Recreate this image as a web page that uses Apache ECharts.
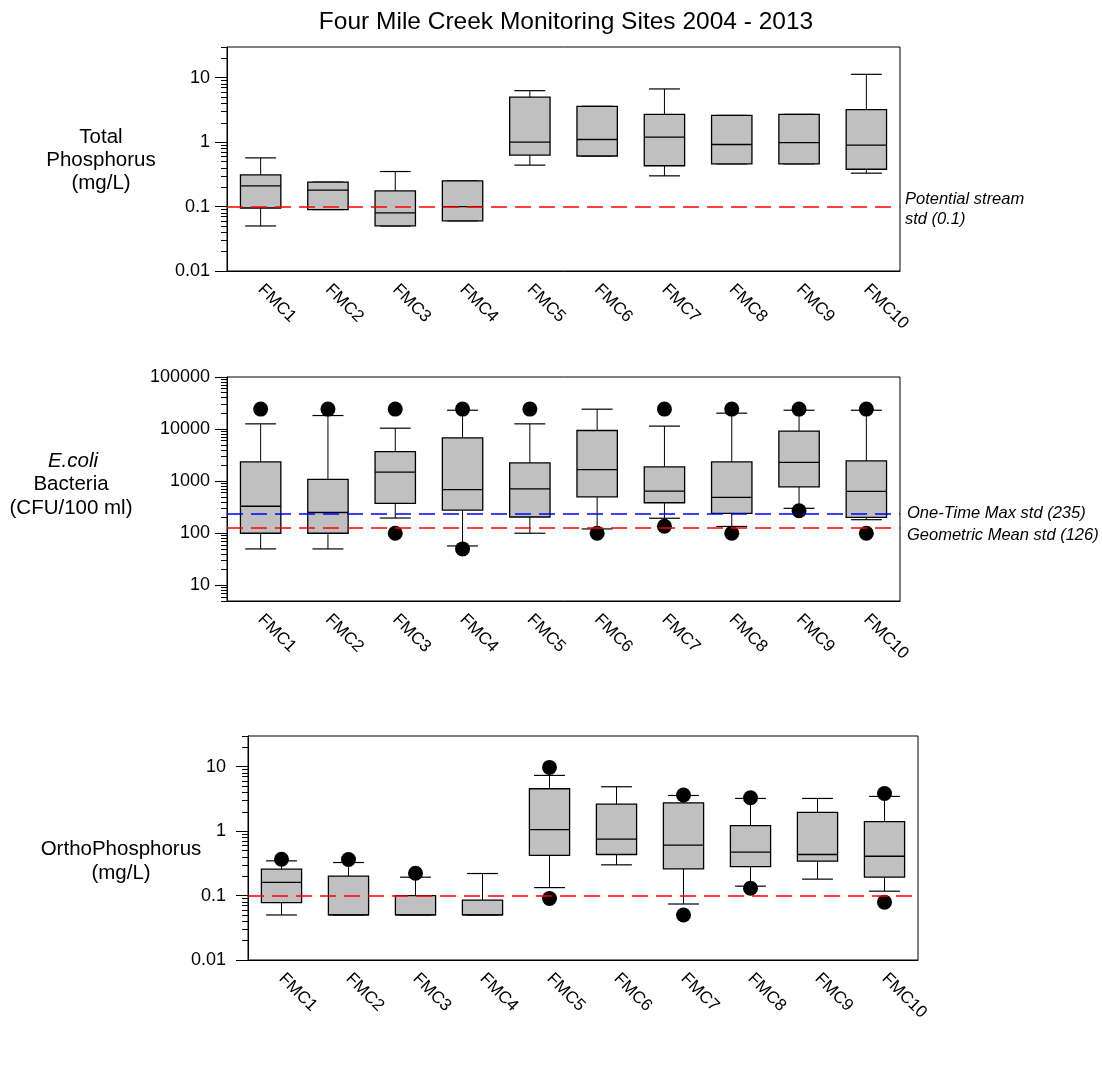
<!DOCTYPE html>
<html>
<head>
<meta charset="utf-8">
<script src="https://cdn.jsdelivr.net/npm/echarts@6/dist/echarts.min.js"></script>
<style>
  html, body { margin: 0; padding: 0; background: #ffffff; }
  #chart { width: 1102px; height: 1072px; }
</style>
</head>
<body>
<div id="chart"></div>
<script>
// Monitoring sites along Four Mile Creek
const sites = ['FMC1', 'FMC2', 'FMC3', 'FMC4', 'FMC5', 'FMC6', 'FMC7', 'FMC8', 'FMC9', 'FMC10'];

// Box summaries per site: [lower whisker, Q1, median, Q3, upper whisker]
const totalPhosphorus = [
  [0.05, 0.095, 0.21, 0.31, 0.57],
  [0.09, 0.09, 0.18, 0.24, 0.24],
  [0.05, 0.05, 0.08, 0.175, 0.35],
  [0.06, 0.06, 0.1, 0.25, 0.25],
  [0.44, 0.63, 1.0, 5.0, 6.3],
  [0.61, 0.61, 1.1, 3.6, 3.6],
  [0.30, 0.43, 1.2, 2.7, 6.7],
  [0.46, 0.46, 0.92, 2.6, 2.6],
  [0.46, 0.46, 0.98, 2.7, 2.7],
  [0.33, 0.38, 0.9, 3.2, 11.3]
];

const ecoli = [
  [50, 100, 330, 2340, 12600],
  [50, 100, 250, 1080, 18200],
  [196, 374, 1490, 3690, 10400],
  [57, 279, 690, 6800, 23000],
  [100, 205, 710, 2240, 12600],
  [121, 500, 1670, 9400, 24100],
  [194, 385, 645, 1880, 11400],
  [135, 240, 490, 2340, 20200],
  [301, 780, 2300, 9150, 23000],
  [182, 202, 636, 2450, 23000]
];

const ecoliOutliers = [
  ['FMC1', 24196], ['FMC2', 24196], ['FMC3', 24196], ['FMC3', 100],
  ['FMC4', 24196], ['FMC4', 50], ['FMC5', 24196], ['FMC6', 100],
  ['FMC7', 24196], ['FMC7', 136], ['FMC8', 24196], ['FMC8', 100],
  ['FMC9', 24196], ['FMC9', 271], ['FMC10', 24196], ['FMC10', 100]
];

const orthoPhosphorus = [
  [0.05, 0.078, 0.16, 0.257, 0.346],
  [0.05, 0.05, 0.05, 0.2, 0.326],
  [0.05, 0.05, 0.05, 0.1, 0.193],
  [0.05, 0.05, 0.05, 0.085, 0.22],
  [0.133, 0.42, 1.06, 4.55, 7.33],
  [0.30, 0.434, 0.75, 2.63, 4.89],
  [0.074, 0.26, 0.605, 2.75, 3.58],
  [0.14, 0.282, 0.472, 1.22, 3.22],
  [0.18, 0.342, 0.434, 1.95, 3.22],
  [0.117, 0.193, 0.408, 1.41, 3.46]
];

const orthoOutliers = [
  ['FMC1', 0.367], ['FMC2', 0.363], ['FMC3', 0.222],
  ['FMC5', 9.77], ['FMC5', 0.09], ['FMC7', 3.65], ['FMC7', 0.05],
  ['FMC8', 3.3], ['FMC8', 0.13], ['FMC10', 3.85], ['FMC10', 0.079]
];

// Water-quality standards
const tpStreamStd = 0.1;
const ecoliOneTimeMax = 235;
const ecoliGeoMean = 126;
const orthoStd = 0.1;

// Axis ranges and labelled decades
const tpRange = [0.01, 30];
const ecoliRange = [5, 100000];
const orthoRange = [0.01, 30];
const tpTicks = [0.01, 0.1, 1, 10];
const ecoliTicks = [10, 100, 1000, 10000, 100000];
const orthoTicks = [0.01, 0.1, 1, 10];

const FONT = '"Liberation Sans", Arial, Helvetica, sans-serif';

// 2..9 sub-decade tick positions inside a log range
function minorTicks(range) {
  const out = [];
  const d0 = Math.floor(Math.log10(range[0]));
  const d1 = Math.ceil(Math.log10(range[1]));
  for (let d = d0; d <= d1; d++) {
    for (let k = 2; k <= 9; k++) {
      const v = Number((k * Math.pow(10, d)).toPrecision(3));
      if (v >= range[0] * 0.999 && v <= range[1] * 1.001) out.push(v);
    }
  }
  return out;
}

const fmtNum = v => String(Number(Number(v).toPrecision(6)));

// Box-and-whisker glyph drawn through the cartesian scales
function boxRenderer(params, api) {
  const cat = api.value(0);
  const ys = [1, 2, 3, 4, 5].map(i => api.coord([cat, api.value(i)])[1]);
  const cx = api.coord([cat, api.value(3)])[0];
  const band = params.coordSys.width / sites.length;
  const hb = band * 0.30, hc = band * 0.23;
  const seg = (x1, y1, x2, y2, w) => ({
    type: 'line', shape: { x1, y1, x2, y2 },
    style: { stroke: '#000', lineWidth: w }
  });
  return {
    type: 'group',
    children: [
      seg(cx, ys[4], cx, ys[3], 1),
      seg(cx - hc, ys[4], cx + hc, ys[4], 1.2),
      seg(cx, ys[0], cx, ys[1], 1),
      seg(cx - hc, ys[0], cx + hc, ys[0], 1.2),
      {
        type: 'rect',
        shape: { x: cx - hb, y: ys[3], width: hb * 2, height: ys[1] - ys[3] },
        style: { fill: '#c0c0c0', stroke: '#000', lineWidth: 1.3 }
      },
      seg(cx - hb, ys[2], cx + hb, ys[2], 1.3)
    ]
  };
}

const grids = [
  { left: 227, top: 47, width: 673, height: 224 },
  { left: 227, top: 377, width: 673, height: 224 },
  { left: 248, top: 736, width: 670, height: 224 }
];
const ranges = [tpRange, ecoliRange, orthoRange];
const ticks = [tpTicks, ecoliTicks, orthoTicks];
const labelMargins = [17, 17, 22];

const chart = echarts.init(document.getElementById('chart'), null, { renderer: 'canvas' });

const option = {
  backgroundColor: '#ffffff',
  animation: false,
  grid: grids.map(g => Object.assign({ show: true, borderColor: '#000', borderWidth: 1, backgroundColor: 'transparent' }, g)),
  xAxis: grids.map((g, i) => ({
    type: 'category', gridIndex: i, data: sites,
    axisLine: { lineStyle: { color: '#000', width: 1 } },
    axisTick: { alignWithLabel: true, length: 6, lineStyle: { color: '#000' } },
    axisLabel: { rotate: -45, interval: 0, margin: 16, fontSize: 17, color: '#000', fontFamily: FONT },
    splitLine: { show: false }
  })),
  yAxis: [
    // labelled decades
    ...grids.map((g, i) => ({
      type: 'log', logBase: 10, gridIndex: i, min: ranges[i][0], max: ranges[i][1],
      position: 'left',
      axisLine: { show: true, lineStyle: { color: '#000', width: 1 } },
      axisTick: { show: true, length: 12, customValues: ticks[i], lineStyle: { color: '#000' } },
      axisLabel: { customValues: ticks[i], formatter: fmtNum, margin: labelMargins[i], fontSize: 18, color: '#000', fontFamily: FONT },
      splitLine: { show: false }
    })),
    // sub-decade ticks
    ...grids.map((g, i) => ({
      type: 'log', logBase: 10, gridIndex: i, min: ranges[i][0], max: ranges[i][1],
      position: 'left',
      axisLine: { show: false },
      axisTick: { show: true, length: 6, customValues: minorTicks(ranges[i]), lineStyle: { color: '#000' } },
      axisLabel: { show: false },
      splitLine: { show: false }
    }))
  ],
  series: []
};

const panels = [
  { stats: totalPhosphorus, outliers: [], lines: [{ v: tpStreamStd, c: '#ff0000' }] },
  { stats: ecoli, outliers: ecoliOutliers, lines: [{ v: ecoliOneTimeMax, c: '#0000ff' }, { v: ecoliGeoMean, c: '#ff0000' }] },
  { stats: orthoPhosphorus, outliers: orthoOutliers, lines: [{ v: orthoStd, c: '#ff0000' }] }
];

panels.forEach((p, i) => {
  option.series.push({
    type: 'custom', xAxisIndex: i, yAxisIndex: i, z: 2,
    renderItem: boxRenderer,
    encode: { x: 0, y: [1, 2, 3, 4, 5] },
    data: p.stats.map((s, k) => [k].concat(s))
  });
  option.series.push({
    type: 'line', xAxisIndex: i, yAxisIndex: i, z: 3, data: [],
    markLine: {
      silent: true, symbol: ['none', 'none'], label: { show: false },
      data: p.lines.map(l => ({
        yAxis: l.v,
        lineStyle: { color: l.c, type: [16, 8], width: 1.5, opacity: 1 }
      }))
    }
  });
  option.series.push({
    type: 'scatter', xAxisIndex: i, yAxisIndex: i, z: 4,
    symbol: 'circle', symbolSize: 15,
    itemStyle: { color: '#000', opacity: 1 },
    data: p.outliers
  });
});

chart.setOption(option);

// Text: title, axis names and standard annotations
const yAt = (axis, v) => chart.convertToPixel({ yAxisIndex: axis }, v);
const txt = (x, y, text, size, extra) => ({
  type: 'text', x, y, silent: true,
  style: Object.assign({ text, fontSize: size, fontFamily: FONT, fill: '#000', align: 'center', verticalAlign: 'middle' }, extra || {})
});

const tpY = yAt(0, tpStreamStd);
const maxY = yAt(1, ecoliOneTimeMax);
const geoY = yAt(1, ecoliGeoMean);
const rightEdge = grids[0].left + grids[0].width;

chart.setOption({
  graphic: [
    txt(566, 22, 'Four Mile Creek Monitoring Sites 2004 - 2013', 24.5),
    txt(101, 137, 'Total', 20.5),
    txt(101, 160, 'Phosphorus', 20.5),
    txt(101, 183, '(mg/L)', 20.5),
    txt(73, 461, 'E.coli', 20.5, { fontStyle: 'italic' }),
    txt(71, 484, 'Bacteria', 20.5),
    txt(71, 508, '(CFU/100 ml)', 20.5),
    txt(121, 849, 'OrthoPhosphorus', 20.5),
    txt(121, 873, '(mg/L)', 20.5),
    txt(rightEdge + 5, tpY - 7, 'Potential stream', 16.5, { fontStyle: 'italic', align: 'left' }),
    txt(rightEdge + 5, tpY + 13, 'std (0.1)', 16.5, { fontStyle: 'italic', align: 'left' }),
    txt(rightEdge + 7, maxY - 1, 'One-Time Max std (235)', 16.5, { fontStyle: 'italic', align: 'left' }),
    txt(rightEdge + 7, geoY + 7, 'Geometric Mean std (126)', 16.5, { fontStyle: 'italic', align: 'left' })
  ]
});
</script>
</body>
</html>
